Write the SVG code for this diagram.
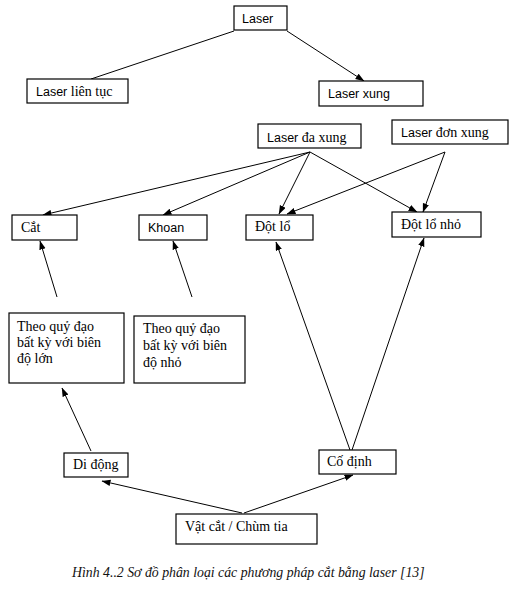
<svg xmlns="http://www.w3.org/2000/svg" width="514" height="591" viewBox="0 0 514 591">
<style>
.box{fill:#fff;stroke:#000;stroke-width:1.2}
.s{font-family:"Liberation Sans",Arial,sans-serif;font-size:12.5px;fill:#000}
.t{font-family:"Liberation Serif","Times New Roman",serif;font-size:14px;fill:#000}
.cap{font-family:"Liberation Serif","Times New Roman",serif;font-size:13.8px;font-style:italic;fill:#111}
.ln{stroke:#000;stroke-width:1;fill:none}
.ar{marker-end:url(#ah)}
</style>
<defs>
<marker id="ah" markerUnits="userSpaceOnUse" markerWidth="9" markerHeight="7" refX="8.5" refY="3.2" orient="auto">
<path d="M0,0 L9,3.2 L0,6.4 z" fill="#000"/>
</marker>
</defs>
<rect width="514" height="591" fill="#fff"/>
<g id="connectors">
<line class="ln" x1="234" y1="31" x2="91" y2="79"/>
<line class="ln ar" x1="287" y1="31" x2="364" y2="81"/>
<line class="ln ar" x1="310" y1="152" x2="43" y2="215"/>
<line class="ln ar" x1="310" y1="152" x2="163" y2="215"/>
<line class="ln ar" x1="310" y1="152" x2="279" y2="214"/>
<line class="ln ar" x1="310" y1="152" x2="417" y2="212"/>
<line class="ln ar" x1="445" y1="152" x2="287" y2="214"/>
<line class="ln ar" x1="445" y1="152" x2="423" y2="212"/>
<line class="ln ar" x1="57" y1="297" x2="40" y2="241"/>
<line class="ln ar" x1="192" y1="297" x2="173" y2="241"/>
<line class="ln ar" x1="350" y1="450" x2="276" y2="242"/>
<line class="ln ar" x1="352" y1="450" x2="424" y2="238"/>
<line class="ln ar" x1="91" y1="451" x2="62" y2="388"/>
<line class="ln ar" x1="242" y1="513" x2="102" y2="481"/>
<line class="ln ar" x1="244" y1="513" x2="353" y2="475"/>
</g>
<g id="laser">
<rect class="box" x="234" y="6" width="53" height="24"/>
<text class="s" x="242" y="23">Laser</text>
</g>
<g id="laser-lien-tuc">
<rect class="box" x="27" y="79" width="101" height="24"/>
<text x="36" y="96"><tspan class="s">Laser</tspan><tspan class="t"> liên tục</tspan></text>
</g>
<g id="laser-xung">
<rect class="box" x="319" y="81" width="104" height="25"/>
<text class="s" x="328" y="98">Laser xung</text>
</g>
<g id="laser-da-xung">
<rect class="box" x="258" y="124" width="103" height="24"/>
<text x="267" y="142"><tspan class="s">Laser</tspan><tspan class="t"> đa xung</tspan></text>
</g>
<g id="laser-don-xung">
<rect class="box" x="392" y="120" width="116" height="24"/>
<text x="401" y="137"><tspan class="s">Laser</tspan><tspan class="t"> đơn xung</tspan></text>
</g>
<g id="cat">
<rect class="box" x="12" y="215" width="65" height="25"/>
<text class="t" x="21" y="232">Cắt</text>
</g>
<g id="khoan">
<rect class="box" x="139" y="215" width="68" height="25"/>
<text class="s" x="148" y="232">Khoan</text>
</g>
<g id="dot-lo">
<rect class="box" x="246" y="215" width="67" height="25"/>
<text class="t" x="255" y="231">Đột lổ</text>
</g>
<g id="dot-lo-nho">
<rect class="box" x="392" y="212" width="89" height="25"/>
<text class="t" x="401" y="229">Đột lổ nhỏ</text>
</g>
<g id="theo-lon">
<rect class="box" x="9" y="313" width="115" height="70"/>
<text class="t" x="17" y="331">Theo quỷ đạo</text>
<text class="t" x="17" y="347">bất kỳ với biên</text>
<text class="t" x="17" y="363">độ lớn</text>
</g>
<g id="theo-nho">
<rect class="box" x="134" y="316" width="111" height="67"/>
<text class="t" x="143" y="333">Theo quỷ đạo</text>
<text class="t" x="143" y="350">bất kỳ với biên</text>
<text class="t" x="143" y="367">độ nhỏ</text>
</g>
<g id="di-dong">
<rect class="box" x="64" y="453" width="64" height="24"/>
<text class="t" x="73" y="469">Di động</text>
</g>
<g id="co-dinh">
<rect class="box" x="319" y="450" width="77" height="24"/>
<text class="t" x="327" y="466">Cố định</text>
</g>
<g id="vat-cat">
<rect class="box" x="176" y="514" width="141" height="30"/>
<text class="t" x="185" y="531">Vật cắt / Chùm tia</text>
</g>
<text class="cap" x="72" y="577">Hình 4..2 Sơ đồ phân loại các phương pháp cắt bằng laser [13]</text>
</svg>
